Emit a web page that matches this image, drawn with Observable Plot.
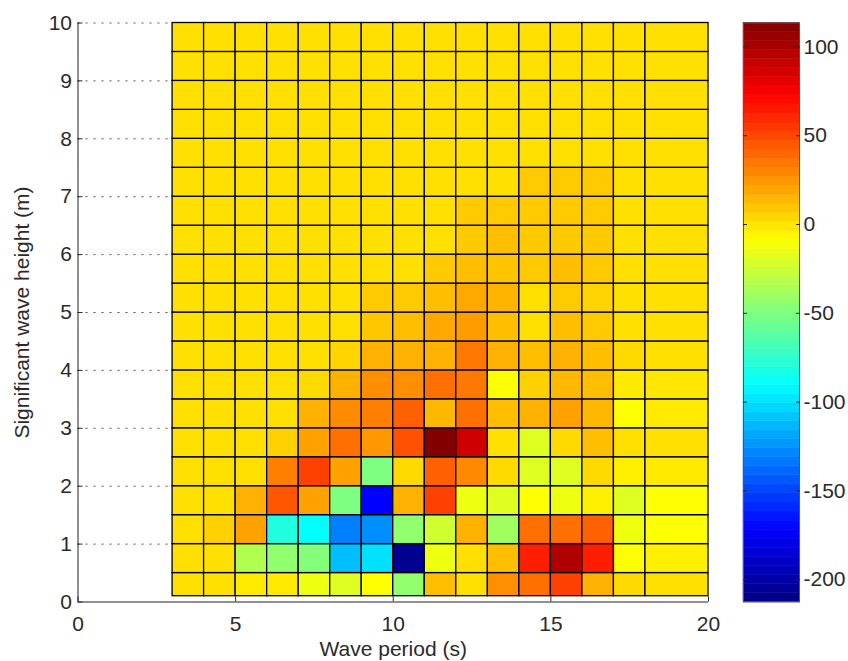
<!DOCTYPE html>
<html>
<head>
<meta charset="utf-8">
<script src="https://cdn.jsdelivr.net/npm/d3@7"></script>
<script src="https://cdn.jsdelivr.net/npm/@observablehq/plot@0.6"></script>
<style>
  body { margin: 0; background: #fff; }
  #fig { position: relative; width: 848px; height: 661px; background: #fff; }
  #fig svg { position: absolute; top: 0; }
</style>
</head>
<body>
<div id="fig"></div>
<script>
// Cell edges (pcolor grid)
const periodEdges = [3, 4, 5, 6, 7, 8, 9, 10, 11, 12, 13, 14, 15, 16, 17, 18, 20];
const heightEdges = [0.1, 0.5, 1, 1.5, 2, 2.5, 3, 3.5, 4, 4.5, 5, 5.5, 6, 6.5, 7, 7.5, 8, 8.5, 9, 9.5, 10];

// Cell values, one row per height band (bottom to top), one value per period column
const row00 = [1, 1, -2, -2, -14, -19, -9, -44, 12, 1, 27, 37, 52, 16, 3, 1];
const row01 = [1, 1, -34, -44, -48, -111, -100, -207, -14, 1, 12, 63, 98, 63, -9, -4];
const row02 = [1, 6, 21, -80, -90, -131, -126, -44, -24, 16, -39, 37, 37, 42, -14, -9];
const row03 = [1, 1, 16, 45, 21, -50, -172, 16, 52, -14, -19, -9, -14, -4, -19, -9];
const row04 = [1, 1, 1, 32, 52, 21, -50, 3, 42, 29, 3, -19, -19, 3, -4, -2];
const row05 = [1, 1, 1, 6, 21, 37, 24, 47, 113, 88, 1, -19, 3, 12, 1, 1];
const row06 = [1, 1, 1, 1, 16, 28, 32, 42, 14, 37, 12, 16, 21, 14, -9, -2];
const row07 = [1, 1, 1, 1, 3, 16, 27, 27, 37, 34, -9, 6, 14, 12, -2, -1];
const row08 = [1, 1, 1, 1, 1, 5, 16, 16, 16, 34, 16, 12, 16, 12, 3, 1];
const row09 = [1, 1, 1, 1, 1, 1, 9, 12, 19, 23, 12, 1, 12, 8, 1, 1];
const row10 = [1, 1, 1, 1, 1, 1, 8, 8, 12, 19, 15, 1, 8, 5, 1, 1];
const row11 = [1, 1, 1, 1, 1, 1, 1, 1, 8, 12, 10, 8, 12, 8, 1, 1];
const row12 = [1, 1, 1, 1, 1, 1, 1, 1, 1, 8, 12, 8, 8, 8, 1, 1];
const row13 = [1, 1, 1, 1, 1, 1, 1, 1, 1, 8, 8, 8, 8, 8, 1, 1];
const row14 = [1, 1, 1, 1, 1, 1, 1, 1, 1, 1, 1, 8, 8, 8, 1, 1];
const row15 = [1, 1, 1, 1, 1, 1, 1, 1, 1, 1, 1, 1, 1, 1, 1, 1];
const row16 = [1, 1, 1, 1, 1, 1, 1, 1, 1, 1, 1, 1, 1, 1, 1, 1];
const row17 = [1, 1, 1, 1, 1, 1, 1, 1, 1, 1, 1, 1, 1, 1, 1, 1];
const row18 = [1, 1, 1, 1, 1, 1, 1, 1, 1, 1, 1, 1, 1, 1, 1, 1];
const row19 = [1, 1, 1, 1, 1, 1, 1, 1, 1, 1, 1, 1, 1, 1, 1, 1];
const rows = [row00, row01, row02, row03, row04, row05, row06, row07, row08, row09,
              row10, row11, row12, row13, row14, row15, row16, row17, row18, row19];

// Tick labels
const xTicks = [0, 5, 10, 15, 20];
const yTicks = [0, 1, 2, 3, 4, 5, 6, 7, 8, 9, 10];
const colorTicks = [-200, -150, -100, -50, 0, 50, 100];
const colorLimits = [-212.6, 113.5];
const xLabel = "Wave period (s)";
const yLabel = "Significant wave height (m)";

// jet colormap
const jetPos = [0, 1/8, 3/8, 5/8, 7/8, 1];
const jetColors = ["#000080", "#0000ff", "#00ffff", "#ffff00", "#ff0000", "#800000"];
const [lo, hi] = colorLimits;
const colorOpts = {
  type: "linear",
  domain: jetPos.map(t => lo + t * (hi - lo)),
  range: jetColors,
  interpolate: "rgb",
  clamp: true
};

const cells = rows.flatMap((row, i) => row.map((v, j) => ({
  x1: periodEdges[j], x2: periodEdges[j + 1],
  y1: heightEdges[i], y2: heightEdges[i + 1], v
})));

const font = `"Liberation Sans", Arial, Helvetica, sans-serif`;

const main = Plot.plot({
  width: 720, height: 661,
  marginLeft: 77.5, marginRight: 12, marginTop: 22.5, marginBottom: 59.5,
  style: { fontFamily: font, fontSize: "21px", color: "#2a2a2a", background: "white", overflow: "visible" },
  x: { domain: [0, 20], axis: null },
  y: { domain: [0, 10], axis: null },
  color: colorOpts,
  marks: [
    Plot.ruleY(yTicks.filter(d => d > 0), { x1: 0, x2: 20, stroke: "#555", strokeDasharray: "2,6" }),
    Plot.rect(cells, { x1: "x1", x2: "x2", y1: "y1", y2: "y2", fill: "v", stroke: "#000", strokeWidth: 1.3 }),
    Plot.ruleX([0], { y1: 0, y2: 10, stroke: "#222" }),
    Plot.ruleY([0], { x1: 0, x2: 20, stroke: "#222" }),
    Plot.axisX({ ticks: xTicks, tickSize: -5, tickPadding: 19, label: null, tickFormat: d => String(d) }),
    Plot.axisY({ ticks: yTicks, tickSize: -5, tickPadding: 11, label: null, tickFormat: d => String(d) }),
    Plot.text([xLabel], { text: d => d, frameAnchor: "bottom", textAnchor: "middle", lineAnchor: "middle", dy: 47, fontSize: 21 }),
    Plot.text([yLabel], { text: d => d, frameAnchor: "left", textAnchor: "middle", lineAnchor: "middle", rotate: -90, dx: -55.5, fontSize: 21 })
  ]
});
main.style.left = "0px";

const nBands = 64;
const bandStep = (hi - lo) / nBands;
const bands = d3.range(nBands).map(i => ({ y1: lo + i * bandStep, y2: lo + (i + 1) * bandStep, v: lo + (i + 0.5) * bandStep }));

const cbar = Plot.plot({
  width: 106, height: 661,
  marginLeft: 1, marginRight: 49, marginTop: 22.5, marginBottom: 59.5,
  style: { fontFamily: font, fontSize: "21px", color: "#2a2a2a", background: "transparent", overflow: "visible" },
  x: { domain: [0, 1], axis: null },
  y: { domain: [lo, hi], axis: null },
  color: colorOpts,
  marks: [
    Plot.rect(bands, { x1: 0, x2: 1, y1: "y1", y2: "y2", fill: "v", stroke: "v", strokeWidth: 0.5 }),
    Plot.frame({ stroke: "#555" }),
    Plot.axisY({ anchor: "left", ticks: colorTicks, tickSize: -4, text: null, label: null }),
    Plot.axisY({ anchor: "right", ticks: colorTicks, tickSize: -4, tickPadding: 8, label: null, tickFormat: d => String(d) })
  ]
});
cbar.style.left = "742px";

document.getElementById("fig").append(main, cbar);
</script>
</body>
</html>
